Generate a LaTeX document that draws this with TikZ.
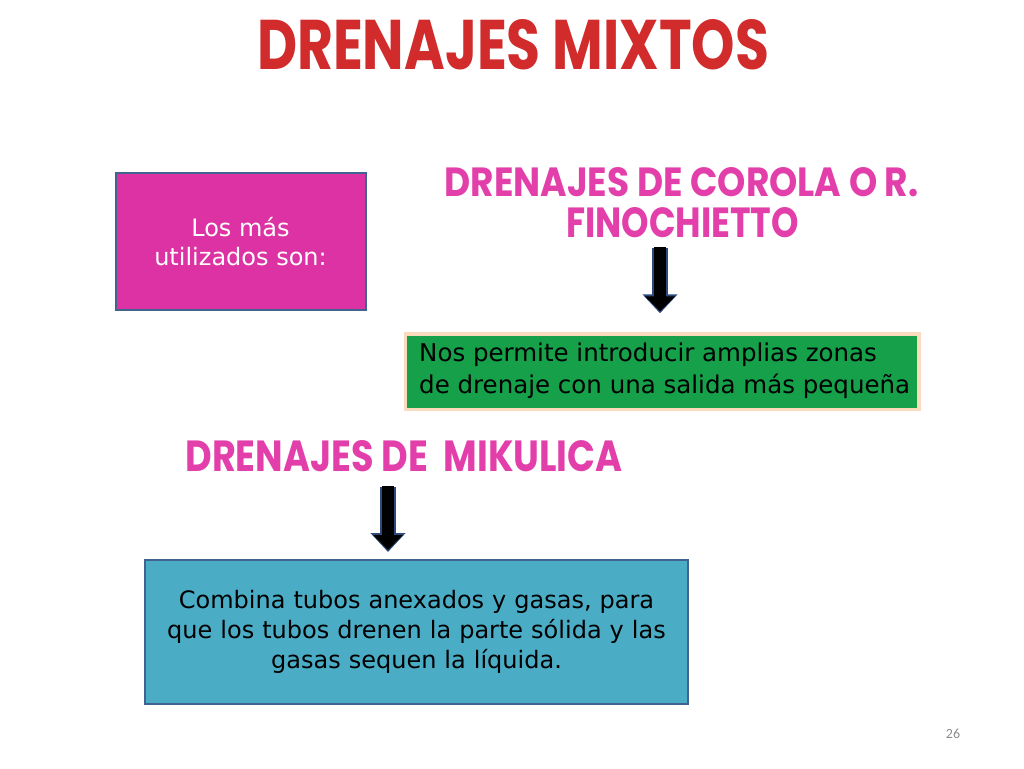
\documentclass[tikz,border=0pt]{standalone}
\usepackage{fontspec}
\setmainfont{DejaVu Sans}
\newfontfamily\titlefont{Poppins}
\newfontfamily\numfont{Carlito}
\usetikzlibrary{arrows.meta}
\definecolor{titlered}{HTML}{D12B2B}
\definecolor{headpink}{HTML}{E23FAA}
\definecolor{boxpink}{HTML}{DC32A4}
\definecolor{boxborder}{HTML}{41648F}
\definecolor{greenfill}{HTML}{15A049}
\definecolor{glow}{HTML}{F7B070}
\definecolor{bluefill}{HTML}{4BACC6}
\definecolor{arrowblue}{HTML}{2E4A7A}
\definecolor{pnum}{HTML}{8C8C8C}
\tikzset{
  heading/.style={inner sep=0pt, anchor=center},
  boxbase/.style={draw=boxborder, line width=2pt, inner sep=0pt, anchor=center},
  bodytext/.style={font=\fontsize{24.5}{32}\selectfont},
  arrowout/.style={draw=arrowblue, line width=16pt, -{Triangle[width=34pt,length=19pt]}},
  arrowin/.style={draw=black, line width=12pt, -{Triangle[width=29pt,length=15pt]}},
}
\begin{document}
\begin{tikzpicture}[x=1pt,y=-1pt]
\useasboundingbox[fill=white] (0,0) rectangle (1024,768);

% title
\node[heading] (title) at (513,45) {\resizebox{512pt}{50pt}{\color{titlered}\titlefont\bfseries DRENAJES MIXTOS}};

% pink box
\node[boxbase, fill=boxpink, minimum width=250pt, minimum height=137pt, text=white,
      align=center, font=\fontsize{24}{29}\selectfont] (pink) at (240.5,241.5)
      {Los más\\utilizados son:};

% heading 1
\node[heading] (h1a) at (681.5,182) {\resizebox{474pt}{29pt}{\color{headpink}\titlefont\bfseries DRENAJES DE COROLA O R.}};
\node[heading] (h1b) at (682.5,223) {\resizebox{233pt}{30pt}{\color{headpink}\titlefont\bfseries FINOCHIETTO}};

% green box with glow
\node[draw=glow, line width=5pt, opacity=0.45, minimum width=512pt, minimum height=74pt, inner sep=0pt] at (662,371.5) {};
\node[fill=greenfill, minimum width=510pt, minimum height=72pt, inner sep=0pt, anchor=center] (green) at (662,371.5) {};
\node[bodytext, anchor=west, align=left, inner sep=0pt] (greentext) at (419,371)
  {Nos permite introducir amplias zonas\\de drenaje con una salida más pequeña};

% arrow 1
\coordinate (a1s) at (660,248);
\draw[arrowout, shorten >=22pt] (a1s) -- (a1s |- green.north);
\draw[arrowin, shorten >=24pt] ([yshift=1pt]a1s) -- (a1s |- green.north);

% heading 2
\node[heading] (h2) at (404,456) {\resizebox{437pt}{31pt}{\color{headpink}\titlefont\bfseries DRENAJES DE \ MIKULICA}};

% blue box
\node[boxbase, fill=bluefill, minimum width=543pt, minimum height=144pt,
      align=center, font=\fontsize{24}{30}\selectfont, text width=535pt] (blue) at (416.5,632)
      {Combina tubos anexados y gasas, para\\que los tubos drenen la parte sólida y las\\gasas sequen la líquida.};

% arrow 2
\coordinate (a2s) at (388,487);
\draw[arrowout, shorten >=7pt] (a2s) -- (a2s |- blue.north);
\draw[arrowin, shorten >=9pt] ([yshift=1pt]a2s) -- (a2s |- blue.north);

% page number
\node[text=pnum, font=\numfont\fontsize{14}{16}\selectfont, inner sep=0pt] (pnum) at (953,734) {26};
\end{tikzpicture}
\end{document}
